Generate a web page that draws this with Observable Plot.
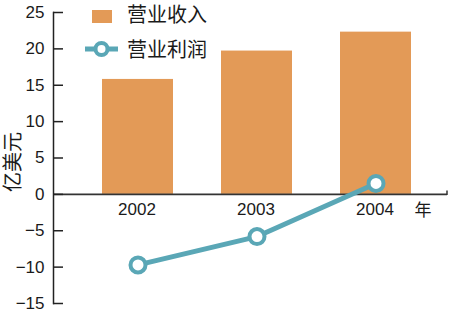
<!DOCTYPE html>
<html><head><meta charset="utf-8">
<script src="https://cdn.jsdelivr.net/npm/d3@7"></script>
<script src="https://cdn.jsdelivr.net/npm/@observablehq/plot@0.6"></script>
<style>
body{margin:0;background:#fff;}
#chart{position:relative;width:450px;height:311px;}
</style>
</head><body><div id="chart"></div>
<script>
const years = ["2002","2003","2004"];
const revenue = [15.8, 19.7, 22.3];
const profit = [-9.7, -5.8, 1.5];
const yTicks = [25,20,15,10,5,0,-5,-10,-15];
const seriesNames = ["营业收入","营业利润"];
const yLabel = "亿美元";
const xUnit = "年";

const orange = "#E39A57", teal = "#5AA7B6";
const font = "'Liberation Sans', Arial, sans-serif";
const cjk = "'Noto Sans CJK SC', sans-serif";

const rows = years.map((y,i)=>({year:y, revenue:revenue[i], profit:profit[i]}));

const W = 450, ML = 53, MR = 0;
const plot = Plot.plot({
  width: W, height: 311,
  marginLeft: ML, marginRight: MR, marginTop: 12, marginBottom: 8,
  style: {fontFamily: font, fontSize: "17px", color: "#1a1a1a", background: "#fff"},
  x: {type: "band", domain: years, range: [54, 460], padding: 0.4, axis: null},
  y: {domain: [-15, 25], ticks: yTicks, axis: null},
  marks: [
    Plot.barY(rows, {x: "year", y: "revenue", fill: orange}),
    Plot.ruleY([0], {stroke: "#333", strokeWidth: 1.6, insetRight: 3}),
    Plot.frame({anchor: "left", stroke: "#222", strokeWidth: 1.5}),
    Plot.ruleY(yTicks, {stroke: "#222", strokeWidth: 1.5, insetRight: W - ML - MR - 10}),
    Plot.axisY(yTicks, {anchor: "left", tickSize: 0, tickPadding: 9, fill: "#1a1a1a", fontSize: 17,
      tickFormat: d => d < 0 ? "\u2212" + Math.abs(d) : String(d), label: null}),
    Plot.text(rows, {x: "year", y: 0, text: "year", dy: 15, dx: -1, fontSize: 17, fill: "#1a1a1a"}),
    Plot.line(rows, {x: "year", y: "profit", stroke: teal, strokeWidth: 5}),
    Plot.dot(rows, {x: "year", y: "profit", r: 7.5, stroke: teal, strokeWidth: 4, fill: "#fff"})
  ]
});
document.getElementById("chart").appendChild(plot);

const svg = d3.select(plot);
// small end tick on the x-axis line
svg.append("line").attr("x1",447).attr("x2",447).attr("y1",195).attr("y2",190.5).attr("stroke","#333").attr("stroke-width",1.5);
// unit label
svg.append("text").attr("x",423).attr("y",216).attr("text-anchor","middle").attr("font-family",cjk).attr("font-size",17).attr("fill","#1a1a1a").text(xUnit);
// y label
svg.append("text").attr("transform","translate(20,162) rotate(-90)").attr("text-anchor","middle").attr("font-family",cjk).attr("font-size",20).attr("fill","#1a1a1a").text(yLabel);
// legend
const lg = svg.append("g").attr("font-family",cjk).attr("font-size",20).attr("fill","#1a1a1a").attr("text-anchor","start");
lg.append("rect").attr("x",92).attr("y",10).attr("width",20).attr("height",13).attr("fill",orange);
lg.append("text").attr("x",127).attr("y",22).text(seriesNames[0]);
lg.append("line").attr("x1",85).attr("x2",118).attr("y1",49).attr("y2",49).attr("stroke",teal).attr("stroke-width",5);
lg.append("circle").attr("cx",101.5).attr("cy",49).attr("r",6).attr("stroke",teal).attr("stroke-width",4).attr("fill","#fff");
lg.append("text").attr("x",127).attr("y",57).text(seriesNames[1]);
</script>
</body></html>
